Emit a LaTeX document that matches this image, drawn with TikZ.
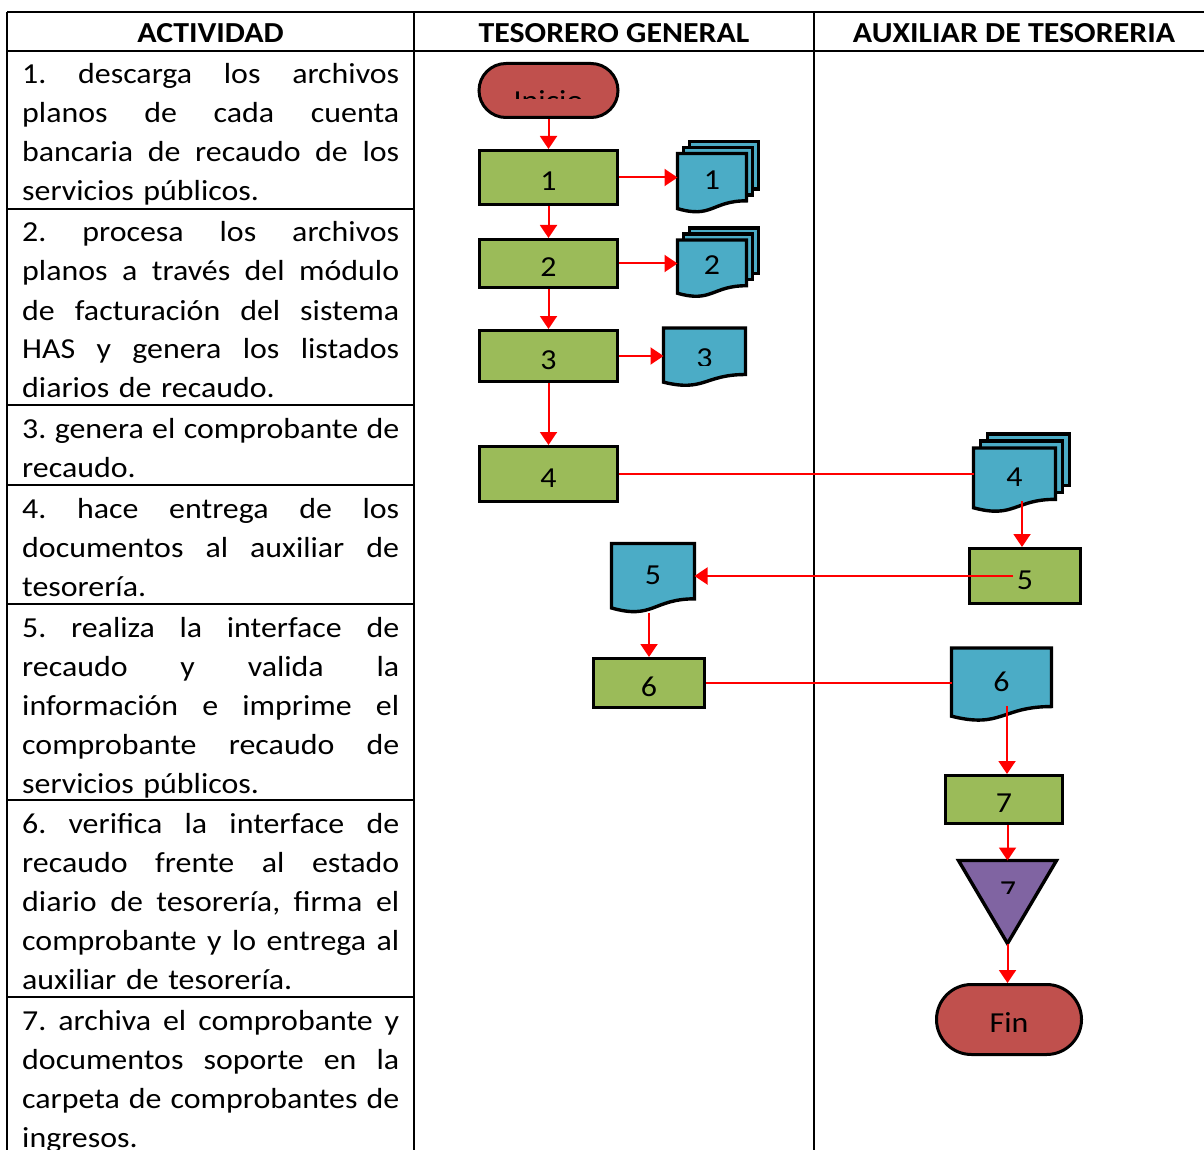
\documentclass[tikz,border=0pt]{standalone}
\usepackage{fontspec}
\setmainfont{Carlito}[FakeStretch=1.1]
\usetikzlibrary{calc,arrows.meta,shapes.misc}
\pgfdeclarelayer{background}
\pgfsetlayers{background,main}

\definecolor{procgreen}{HTML}{9BBB59}
\definecolor{docblue}{HTML}{4BACC6}
\definecolor{termred}{HTML}{C0504D}
\definecolor{storepurple}{HTML}{8064A2}
\definecolor{flowred}{HTML}{FF0000}

\newcommand\rowfont{\fontsize{29}{39}\selectfont}
\newcommand\shapefont{\fontsize{29}{34}\selectfont}
% a fully justified line of the activity column: every space takes an equal share of the slack
\newcommand\jline[1]{\makebox[377pt][s]{\frenchspacing
  \spaceskip=\fontdimen2\font plus 1fil\relax
  \xspaceskip=\fontdimen2\font plus 1fil\relax #1}}

% document symbol with a wavy lower edge, built on the frame of node #2
\newcommand\docsheet[2][]{%
  \path[docfill,#1] (#2.north west) -- (#2.north east)
    -- ($(#2.north east)!0.802!(#2.south east)$)
    .. controls ($(#2.north)!0.802!(#2.south)$) and ($(#2.north)!1.1075!(#2.south)$)
    .. ($(#2.north west)!0.934!(#2.south west)$) -- cycle;}
% a sheet stacked behind a multi-document symbol, shifted up-right by #2
\newcommand\backsheet[2]{%
  \path[docfill] ($(#1.north west)+(#2pt,#2pt)$)
    rectangle ($(#1.north east)!0.802!(#1.south east)+(#2pt,#2pt)$);}

\tikzset{
  grid/.style={line width=2pt, draw=black},
  hdr/.style={font=\fontsize{29}{34}\selectfont\bfseries, inner sep=0pt, anchor=base},
  rowtext/.style={font=\rowfont, text width=377pt, align=left, inner sep=0pt, anchor=base west},
  proc/.style={rectangle, draw=black, fill=procgreen, line width=3pt, font=\shapefont,
    inner sep=0pt, text height=26pt, text depth=0pt},
  term/.style={rounded rectangle, draw=black, fill=termred, line width=3pt, font=\shapefont,
    inner sep=0pt, text height=26pt, text depth=0pt},
  docnode/.style={inner sep=0pt, outer sep=0pt, font=\shapefont, text depth=6pt},
  lbl/.style={inner sep=0pt, font=\shapefont},
  docfill/.style={draw=black, fill=docblue, line width=3.4pt, line join=miter},
  storefill/.style={draw=black, fill=storepurple, line width=3.4pt, line join=miter},
  flow/.style={draw=flowred, line width=2pt, -{Triangle[length=13pt,width=17pt]}},
  link/.style={draw=flowred, line width=2pt},
}

\begin{document}
\begin{tikzpicture}[x=1pt, y=-1pt]
\useasboundingbox (0,0) rectangle (1204,1150);

% ---- table frame ----
\draw[grid] (7,12) -- (1210,12);
\draw[grid] (7,51) -- (1210,51);
\draw[grid] (7,12) -- (7,1160);
\draw[grid] (414,12) -- (414,1160);
\draw[grid] (814,12) -- (814,1160);
\foreach \yy in {209,405,485,604,800,997}
  \draw[grid] (7,\yy) -- (414,\yy);

% ---- column headings ----
\node[hdr] (h1) at (210.5,43) {ACTIVIDAD};
\node[hdr] (h2) at (614,43) {TESORERO GENERAL};
\node[hdr] (h3) at (1014,43) {AUXILIAR DE TESORERIA};

% ---- activity descriptions ----
\node[rowtext] (r1) at (22,84) {\jline{1. descarga los archivos}\\
  \jline{planos de cada cuenta}\\
  \jline{bancaria de recaudo de los}\\
  servicios públicos.};
\node[rowtext] (r2) at (22,242) {\jline{2. procesa los archivos}\\
  \jline{planos a través del módulo}\\
  \jline{de facturación del sistema}\\
  \jline{HAS y genera los listados}\\
  diarios de recaudo.};
\node[rowtext] (r3) at (22,438) {\jline{3. genera el comprobante de}\\
  recaudo.};
\node[rowtext] (r4) at (22,518) {\jline{4. hace entrega de los}\\
  \jline{documentos al auxiliar de}\\
  tesorería.};
\node[rowtext] (r5) at (22,637) {\jline{5. realiza la interface de}\\
  \jline{recaudo y valida la}\\
  \jline{información e imprime el}\\
  \jline{comprobante recaudo de}\\
  servicios públicos.};
\node[rowtext] (r6) at (22,833) {\jline{6. verifica la interface de}\\
  \jline{recaudo frente al estado}\\
  \jline{diario de tesorería, firma el}\\
  \jline{comprobante y lo entrega al}\\
  auxiliar de tesorería.};
\node[rowtext] (r7) at (22,1030) {\jline{7. archiva el comprobante y}\\
  \jline{documentos soporte en la}\\
  \jline{carpeta de comprobantes de}\\
  ingresos.};

% ---- flow symbols ----
\node[term, minimum width=139pt, minimum height=54pt] (ini) at (548.5,90.5) {};
\begin{scope}
  \clip (470,50) rectangle (630,99);
  \node[lbl] (initxt) at (548.5,101) {Inicio};
\end{scope}

\node[proc, minimum width=138pt, minimum height=54pt] (b1) at (548.5,177.5) {1};
\node[proc, minimum width=138pt, minimum height=48pt] (b2) at (548.5,263.5) {2};
\node[proc, minimum width=138pt, minimum height=51pt] (b3) at (548.5,356) {3};
\node[proc, minimum width=138pt, minimum height=55pt] (b4) at (548.5,474) {4};
\node[proc, minimum width=111pt, minimum height=55pt] (b5) at (1025,576) {5};
\node[proc, minimum width=111pt, minimum height=49pt] (b6) at (649,683) {6};
\node[proc, minimum width=117pt, minimum height=48pt] (b7) at (1004,799.5) {7};
\node[term, minimum width=145pt, minimum height=70pt] (fin) at (1009,1019.5) {Fin};

\node[docnode, minimum width=69pt, minimum height=59pt] (d1) at (712,183) {1};
\node[docnode, minimum width=69pt, minimum height=57pt] (d2) at (712,268.5) {2};
\node[docnode, minimum width=82pt, minimum height=58pt] (d3) at (704.5,357) {};
\begin{scope}
  \clip (650,320) rectangle (760,365);
  \node[lbl] (d3txt) at (704.5,358) {3};
\end{scope}
\node[docnode, minimum width=82pt, minimum height=64pt] (d4) at (1014.5,480) {4};
\node[docnode, minimum width=83pt, minimum height=69pt] (d5) at (653,578) {5};
\node[docnode, minimum width=100pt, minimum height=73pt] (d6) at (1001.5,684.5) {6};

\node[docnode, minimum width=98pt, minimum height=83pt] (t7) at (1007.5,902) {};
\begin{scope}
  \clip (950,850) rectangle (1070,893);
  \node[lbl] (t7txt) at (1008,891.5) {7};
\end{scope}

% outlines of documents and of the archive triangle, behind their labels
\begin{pgfonlayer}{background}
  \backsheet{d1}{12}\backsheet{d1}{6}\docsheet{d1}
  \backsheet{d2}{12}\backsheet{d2}{6}\docsheet{d2}
  \docsheet{d3}
  \backsheet{d4}{14}\backsheet{d4}{7}\docsheet{d4}
  \docsheet{d5}
  \docsheet{d6}
  \path[storefill] (t7.north west) -- (t7.north east) -- (t7.south) -- cycle;
\end{pgfonlayer}

% ---- connectors ----
\draw[flow] (ini.south) -- (b1.north);
\draw[flow] (b1.east) -- (b1.east -| d1.west);
\draw[flow] (b1.south) -- (b2.north);
\draw[flow] (b2.east) -- (b2.east -| d2.west);
\draw[flow] (b2.south) -- (b3.north);
\draw[flow] (b3.east) -- (b3.east -| d3.west);
\draw[flow] (b3.south) -- (b4.north);
\draw[link] (b4.east) -- (b4.east -| d4.west);
\draw[flow] ($(b5.north |- d4.south)+(-3pt,11pt)$) -- ($(b5.north)+(-3pt,0pt)$);
\draw[flow] ($(b5.center)+(-12pt,0pt)$) -- (b5.center -| d5.east);
\draw[flow] (b6.north |- d5.south) -- (b6.north);
\draw[link] (b6.east) -- (b6.east -| d6.west);
\draw[flow] ($(b7.north |- d6.south)+(3pt,15pt)$) -- ($(b7.north)+(3pt,0pt)$);
\draw[flow] (b7.south -| t7.north) -- (t7.north);
\draw[flow] (t7.south) -- (t7.south |- fin.north);
\end{tikzpicture}
\end{document}
